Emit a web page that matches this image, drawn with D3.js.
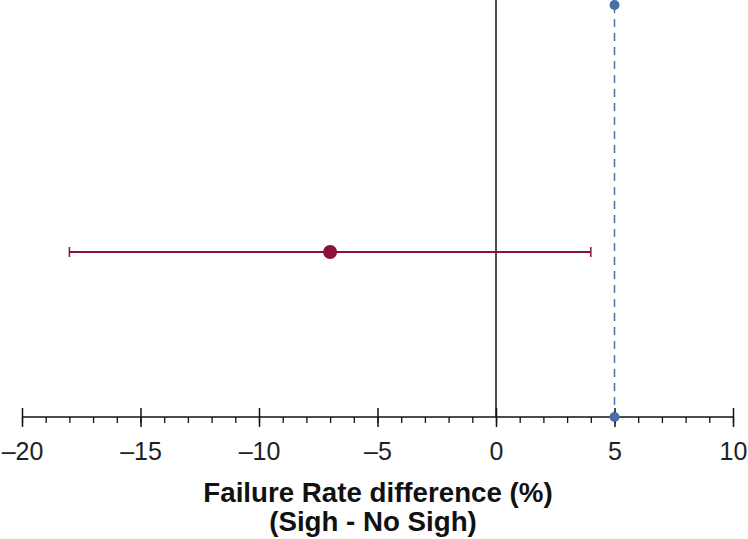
<!DOCTYPE html>
<html>
<head>
<meta charset="utf-8">
<script src="https://cdn.jsdelivr.net/npm/d3@7"></script>
<style>
  body { margin: 0; background: #fff; }
  svg { display: block; }
</style>
</head>
<body>
<script>
// forest-style point estimate with 95% CI
var estimate = [-7];
var ciLow = [-18];
var ciHigh = [4];
var refLine = [5];
var majorTicks = [-20, -15, -10, -5, 0, 5, 10];
var minorTicks = d3.range(-20, 11, 1);

var w = 748, h = 539,
  axisY = 417,
  rowY = 252;

var x = d3.scaleLinear().domain([-20, 10]).range([22, 733]);

var svg = d3.select('body')
  .append('svg')
  .attr('width', w)
  .attr('height', h);

// zero line
svg.append('line')
  .attr('x1', x(0)).attr('x2', x(0))
  .attr('y1', 0).attr('y2', axisY)
  .attr('stroke', '#111')
  .attr('stroke-width', 1.5);

// dashed reference line at 5
svg.selectAll('line.ref').data(refLine)
  .enter()
  .append('line')
  .attr('class', 'ref')
  .attr('x1', function (d) { return x(d); })
  .attr('x2', function (d) { return x(d); })
  .attr('y1', 5).attr('y2', axisY)
  .attr('stroke', '#4a6ea8')
  .attr('stroke-width', 1.5)
  .attr('stroke-dasharray', '8,6');

// axis
var axis = d3.axisBottom(x)
  .tickValues(minorTicks)
  .tickSize(6)
  .tickFormat('');
var gMinor = svg.append('g')
  .attr('transform', 'translate(0,' + axisY + ')')
  .call(axis);
gMinor.select('.domain').remove();
gMinor.selectAll('line').attr('stroke', '#111').attr('stroke-width', 1.3);

var gMajor = svg.append('g')
  .attr('transform', 'translate(0,' + axisY + ')')
  .call(d3.axisBottom(x).tickValues(majorTicks).tickSize(10).tickSizeOuter(0)
    .tickFormat(function (d) { return d < 0 ? '\u2013' + Math.abs(d) : d; }));
gMajor.select('.domain')
  .attr('stroke', '#111')
  .attr('stroke-width', 1.5)
  .attr('d', 'M' + x(-20) + ',0H' + x(10));
gMajor.selectAll('line')
  .attr('stroke', '#111')
  .attr('stroke-width', 1.5)
  .attr('y1', -9);
gMajor.selectAll('text')
  .attr('y', 43)
  .attr('dy', 0)
  .attr('font-family', 'Liberation Sans, Arial, sans-serif')
  .attr('font-size', '25px')
  .attr('fill', '#222');

// reference dots
svg.selectAll('circle.refdot').data([refLine[0], refLine[0]])
  .enter()
  .append('circle')
  .attr('cx', function (d) { return x(d); })
  .attr('cy', function (d, i) { return i === 0 ? 5 : axisY; })
  .attr('r', 5)
  .attr('fill', '#4a6ea8');

// CI bar
var red = '#8c1237';
svg.selectAll('line.ci').data(estimate)
  .enter()
  .append('line')
  .attr('class', 'ci')
  .attr('x1', function (d, i) { return x(ciLow[i]); })
  .attr('x2', function (d, i) { return x(ciHigh[i]); })
  .attr('y1', rowY).attr('y2', rowY)
  .attr('stroke', red)
  .attr('stroke-width', 2);

svg.selectAll('line.cap').data(ciLow.concat(ciHigh))
  .enter()
  .append('line')
  .attr('class', 'cap')
  .attr('x1', function (d) { return x(d); })
  .attr('x2', function (d) { return x(d); })
  .attr('y1', rowY - 5).attr('y2', rowY + 5)
  .attr('stroke', red)
  .attr('stroke-width', 1.5);

svg.selectAll('circle.est').data(estimate)
  .enter()
  .append('circle')
  .attr('class', 'est')
  .attr('cx', function (d) { return x(d); })
  .attr('cy', rowY)
  .attr('r', 7)
  .attr('fill', red);

// axis title
var title = svg.append('text')
  .attr('text-anchor', 'middle')
  .attr('font-family', 'Liberation Sans, Arial, sans-serif')
  .attr('font-weight', 'bold')
  .attr('font-size', '27.7px')
  .attr('fill', '#111');
title.append('tspan').attr('x', 378).attr('y', 502).text('Failure Rate difference (%)');
title.append('tspan').attr('x', 373).attr('y', 531).text('(Sigh - No Sigh)');
</script>
</body>
</html>
